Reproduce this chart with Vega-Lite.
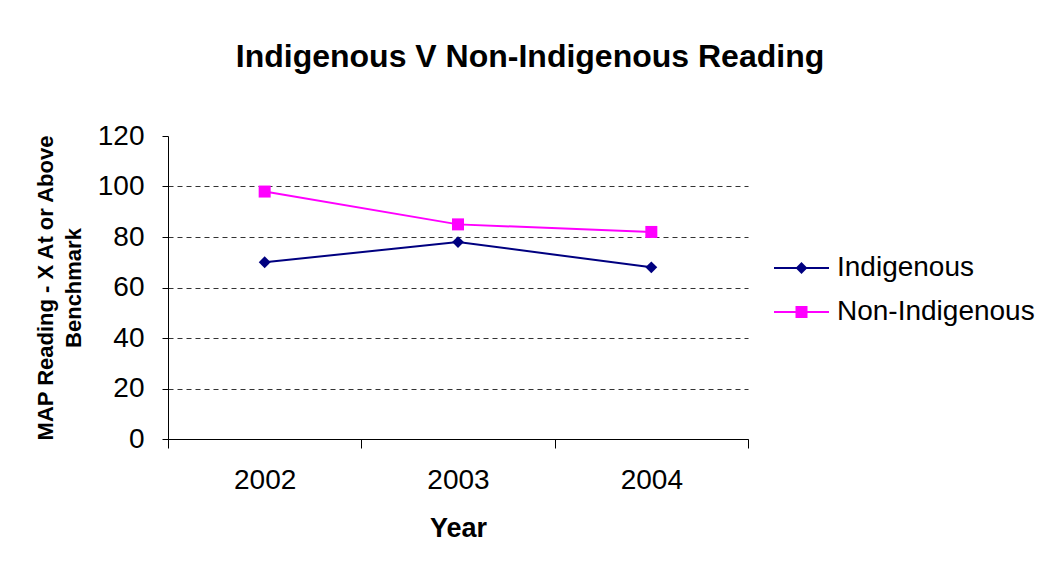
{
  "$schema": "https://vega.github.io/schema/vega-lite/v6.json",
  "width": 580,
  "height": 303,
  "autosize": "none",
  "padding": {"left": 168, "top": 136, "right": 289, "bottom": 122},
  "background": "white",
  "config": {"view": {"stroke": null}, "font": "Liberation Sans"},
  "title": {
    "text": "Indigenous V Non-Indigenous Reading",
    "font": "Liberation Sans",
    "fontSize": 32,
    "fontWeight": "bold",
    "color": "black",
    "anchor": "middle",
    "frame": "group",
    "dx": 72,
    "offset": 48
  },
  "data": {
    "values": [
      {"Year": "2002", "Series": "Indigenous", "Value": 70},
      {"Year": "2003", "Series": "Indigenous", "Value": 78},
      {"Year": "2004", "Series": "Indigenous", "Value": 68},
      {"Year": "2002", "Series": "Non-Indigenous", "Value": 98},
      {"Year": "2003", "Series": "Non-Indigenous", "Value": 85},
      {"Year": "2004", "Series": "Non-Indigenous", "Value": 82}
    ]
  },
  "encoding": {
    "x": {
      "field": "Year",
      "type": "ordinal",
      "scale": {"type": "band", "paddingInner": 0, "paddingOuter": 0},
      "bandPosition": 0.5,
      "axis": {
        "title": "Year",
        "titleFont": "Liberation Sans",
        "titleFontSize": 27,
        "titleFontWeight": "bold",
        "titleColor": "black",
        "titlePadding": 21,
        "labelFont": "Liberation Sans",
        "labelFontSize": 28,
        "labelColor": "black",
        "labelPadding": 18,
        "labelAngle": 0,
        "tickSize": 9,
        "tickColor": "black",
        "tickBand": "extent",
        "domainColor": "black",
        "grid": false
      }
    },
    "y": {
      "field": "Value",
      "type": "quantitative",
      "scale": {"domain": [0, 120]},
      "axis": {
        "values": [0, 20, 40, 60, 80, 100, 120],
        "title": ["MAP Reading - X At or Above", "Benchmark"],
        "titleFont": "Liberation Sans",
        "titleFontSize": 22,
        "titleFontWeight": "bold",
        "titleColor": "black",
        "titleLineHeight": 28,
        "titlePadding": 12,
        "labelFont": "Liberation Sans",
        "labelFontSize": 28,
        "labelColor": "black",
        "labelPadding": 18,
        "tickSize": 6,
        "tickColor": "black",
        "domainColor": "black",
        "grid": true,
        "gridColor": "#333333",
        "gridDash": [5, 4],
        "gridOpacity": {"condition": {"test": "datum.value === 120", "value": 0}, "value": 1}
      }
    }
  },
  "layer": [
    {
      "mark": {"type": "point", "filled": true, "size": 0, "strokeWidth": 2, "opacity": 1},
      "encoding": {
        "color": {
          "field": "Series",
          "type": "nominal",
          "scale": {"domain": ["Indigenous", "Non-Indigenous"], "range": ["#000080", "#FF00FF"]},
          "legend": {
            "orient": "none",
            "legendX": 619.5,
            "legendY": 118,
            "title": null,
            "padding": 0,
            "labelFont": "Liberation Sans",
            "labelFontSize": 28,
            "labelColor": "black",
            "labelOffset": 21.5,
            "labelLimit": 400,
            "symbolSize": 400,
            "symbolStrokeWidth": 2,
            "rowPadding": 16
          }
        },
        "stroke": {
          "field": "Series",
          "type": "nominal",
          "scale": {"domain": ["Indigenous", "Non-Indigenous"], "range": ["#000080", "#FF00FF"]}
        },
        "shape": {
          "field": "Series",
          "type": "nominal",
          "scale": {
            "domain": ["Indigenous", "Non-Indigenous"],
            "range": [
              "M-2.75,0L2.75,0M0,-0.45L0.45,0L0,0.45L-0.45,0Z",
              "M-2.75,0L2.75,0M-0.5,-0.5L0.5,-0.5L0.5,0.5L-0.5,0.5Z"
            ]
          }
        }
      }
    },
    {
      "mark": {"type": "line", "strokeWidth": 2},
      "encoding": {
        "color": {
          "field": "Series",
          "type": "nominal",
          "scale": {"domain": ["Indigenous", "Non-Indigenous"], "range": ["#000080", "#FF00FF"]},
          "legend": null
        }
      }
    },
    {
      "transform": [{"filter": "datum.Series == 'Indigenous'"}],
      "mark": {"type": "point", "shape": "diamond", "filled": true, "size": 140, "color": "#000080", "opacity": 1}
    },
    {
      "transform": [{"filter": "datum.Series == 'Non-Indigenous'"}],
      "mark": {"type": "point", "shape": "square", "filled": true, "size": 144, "color": "#FF00FF", "opacity": 1}
    }
  ]
}
